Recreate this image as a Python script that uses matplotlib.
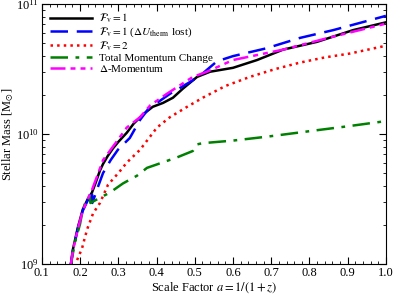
import numpy as np
import matplotlib
matplotlib.use('Agg')
import matplotlib.pyplot as plt
from matplotlib.ticker import MultipleLocator

plt.rcParams['font.family'] = ['Liberation Serif', 'DejaVu Serif']
plt.rcParams['mathtext.fontset'] = 'stix'

# F_v = 1
a_fv1 = [0.175, 0.181, 0.194, 0.207, 0.22, 0.231, 0.24, 0.252, 0.26, 0.272, 0.286, 0.3, 0.322, 0.34,
         0.364, 0.39, 0.417, 0.443, 0.469, 0.506, 0.54, 0.6, 0.663, 0.731, 0.82, 0.914, 1.0]
m_fv1 = [8.98, 9.11, 9.28, 9.42, 9.5, 9.55, 9.62, 9.72, 9.77, 9.83, 9.89, 9.94, 10.01, 10.08,
         10.15, 10.21, 10.24, 10.28, 10.35, 10.44, 10.48, 10.51, 10.57, 10.65, 10.71, 10.8, 10.86]

# F_v = 1 (dU_therm lost)
a_lost = [0.175, 0.181, 0.194, 0.207, 0.22, 0.231, 0.232, 0.245, 0.26, 0.28, 0.299, 0.33, 0.357,
          0.38, 0.401, 0.435, 0.487, 0.514, 0.558, 0.6, 0.687, 0.775, 0.862, 0.95, 1.0]
m_lost = [8.98, 9.1, 9.27, 9.41, 9.49, 9.55, 9.47, 9.58, 9.7, 9.8, 9.88, 9.97, 10.11,
          10.2, 10.24, 10.31, 10.4, 10.45, 10.56, 10.6, 10.66, 10.74, 10.8, 10.87, 10.91]

# F_v = 2
a_fv2 = [0.19, 0.192, 0.205, 0.213, 0.22, 0.234, 0.252, 0.273, 0.3, 0.322, 0.357, 0.401, 0.435,
         0.48, 0.521, 0.58, 0.644, 0.71, 0.775, 0.84, 0.906, 1.0]
m_fv2 = [8.98, 9.03, 9.12, 9.21, 9.28, 9.39, 9.47, 9.61, 9.7, 9.78, 9.88, 10.05, 10.13,
         10.21, 10.28, 10.37, 10.44, 10.5, 10.55, 10.59, 10.62, 10.68]

# total momentum change
a_tot = [0.175, 0.186, 0.2, 0.207, 0.215, 0.225, 0.227, 0.252, 0.278, 0.312, 0.349, 0.375,
         0.453, 0.495, 0.505, 0.52, 0.6, 0.689, 0.82, 0.9, 1.0]
m_tot = [8.98, 9.16, 9.31, 9.42, 9.48, 9.53, 9.47, 9.51, 9.55, 9.62, 9.68, 9.74,
         9.82, 9.87, 9.92, 9.93, 9.95, 9.98, 10.03, 10.06, 10.1]

# delta-momentum
a_dmom = [0.175, 0.181, 0.194, 0.207, 0.22, 0.231, 0.245, 0.26, 0.28, 0.3, 0.322, 0.357, 0.383,
          0.427, 0.495, 0.532, 0.6, 0.731, 0.862, 1.0]
m_dmom = [8.98, 9.1, 9.27, 9.41, 9.5, 9.57, 9.68, 9.8, 9.88, 9.96, 10.05, 10.13, 10.22,
          10.31, 10.44, 10.48, 10.57, 10.65, 10.75, 10.85]

fig = plt.figure(figsize=(3.95, 2.96), dpi=100)
ax = fig.add_axes([0.106, 0.108, 0.871, 0.878])

ax.plot(a_fv1, 10**np.array(m_fv1), '-', color='k', lw=1.8, label=r'$\mathcal{F}_{\rm v} = 1$')
ax.plot(a_lost, 10**np.array(m_lost), '--', color='b', lw=1.8, dashes=(7, 3.5),
        label=r'$\mathcal{F}_{\rm v} = 1$ ($\Delta U_{\rm therm}$ lost)')
ax.plot(a_fv2, 10**np.array(m_fv2), ':', color='r', lw=1.8, label=r'$\mathcal{F}_{\rm v} = 2$')
ax.plot(a_tot, 10**np.array(m_tot), '-.', color='green', lw=1.8, dashes=(7, 3, 1.5, 3),
        label='Total Momentum Change')
ax.plot(a_dmom, 10**np.array(m_dmom), '-', color='magenta', lw=1.8, dashes=(6, 2, 2, 2, 2, 2),
        label=r'$\Delta$-Momentum')

ax.set_yscale('log')
ax.set_xlim(0.1, 1.0)
ax.set_ylim(1e9, 1e11)
ax.xaxis.set_major_locator(MultipleLocator(0.1))
ax.xaxis.set_minor_locator(MultipleLocator(0.02))
ax.tick_params(which='both', direction='in', top=True, right=True, labelsize=9, pad=2)
ax.tick_params(which='major', length=5)
ax.tick_params(which='minor', length=2.5)

ax.set_xlabel(r'Scale Factor $a = 1/(1+z)$', fontsize=9, labelpad=1)
ax.set_ylabel(r'Stellar Mass [M$_{\odot}$]', fontsize=9, labelpad=0)

ax.legend(loc='upper left', frameon=False, fontsize=8, handlelength=3.8,
          labelspacing=0.02, borderaxespad=0.3, handletextpad=0.6)

plt.savefig('out.png', dpi=100)
plt.close()
